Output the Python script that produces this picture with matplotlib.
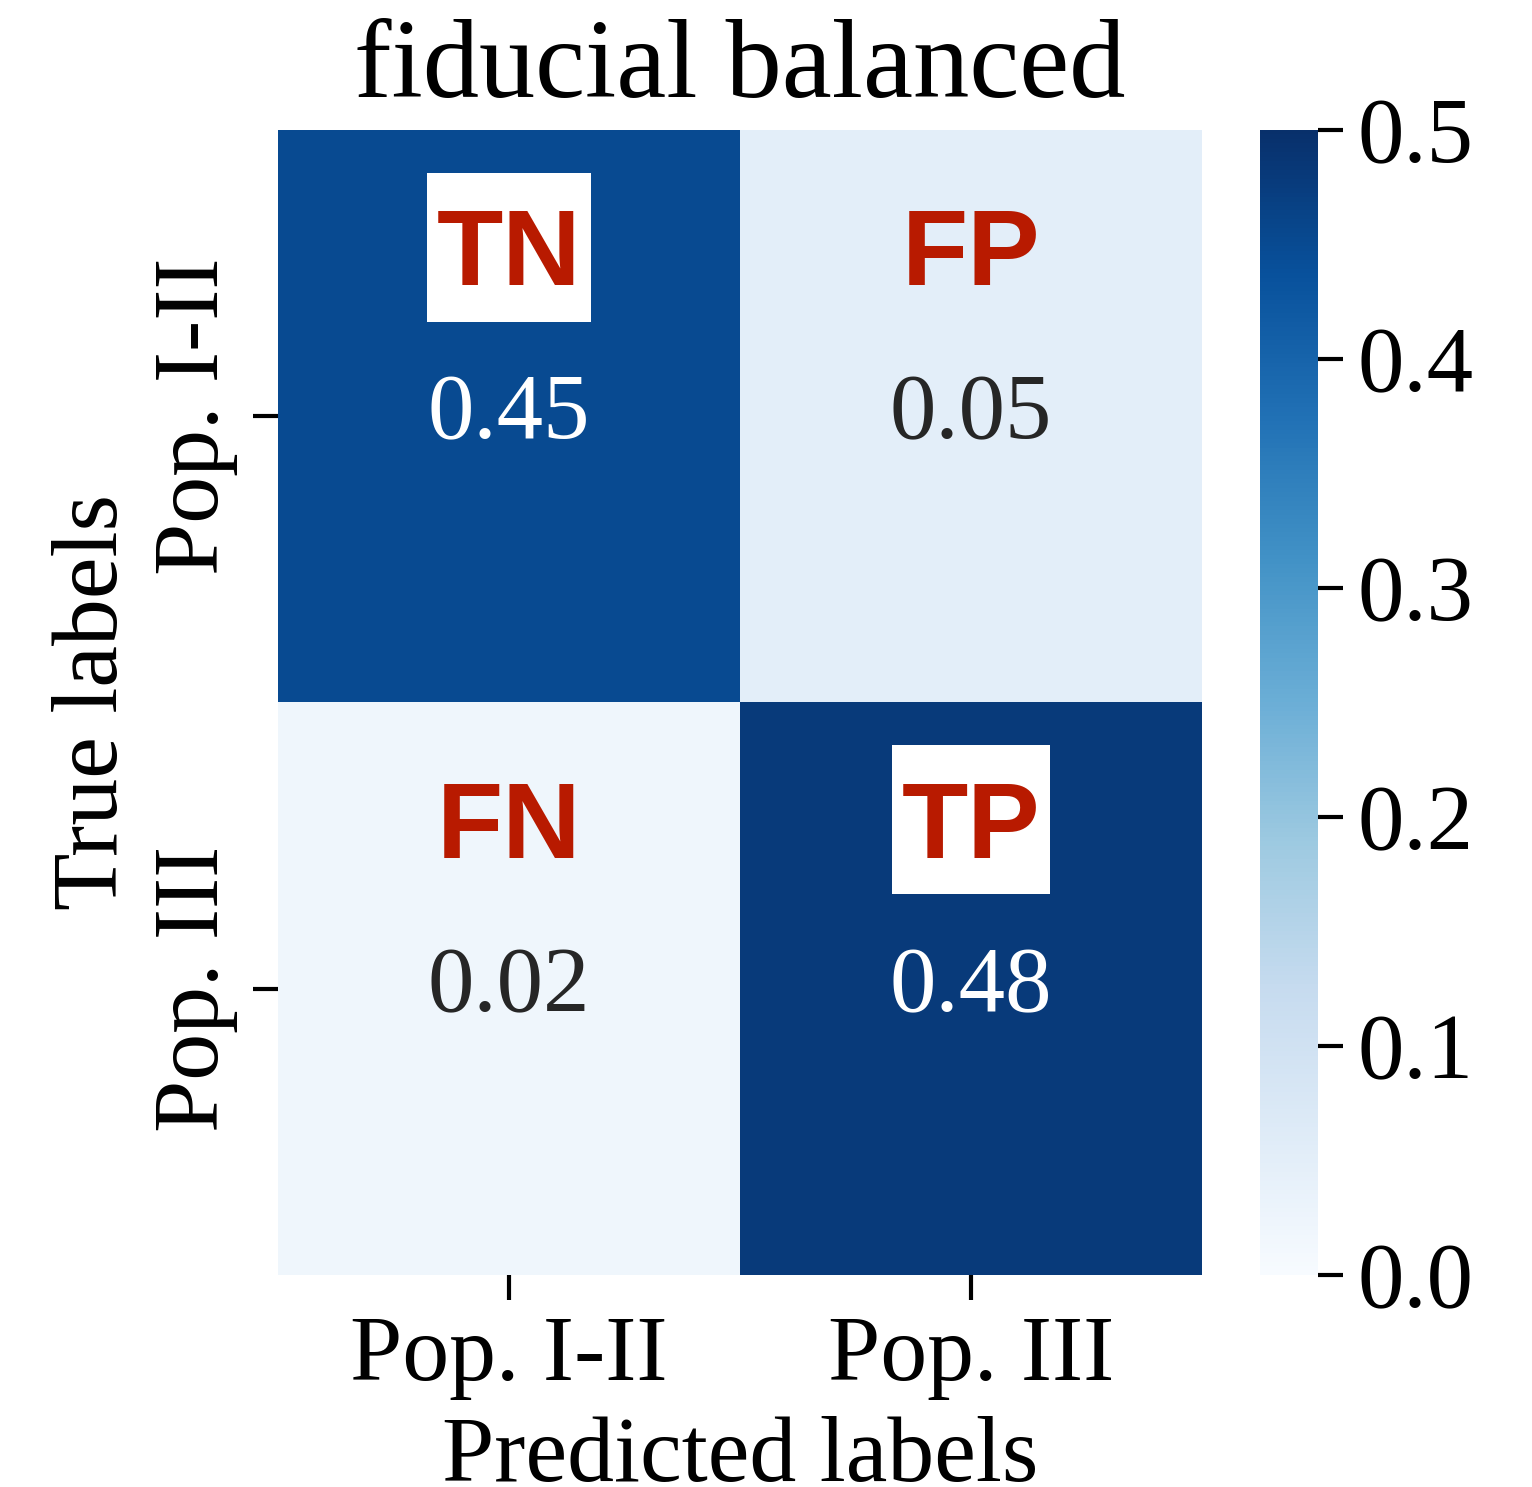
import matplotlib
matplotlib.use("Agg")
import matplotlib.pyplot as plt
from matplotlib.patches import Rectangle
import numpy as np
import seaborn as sns

# confusion matrix fractions (rows: true, cols: predicted)
class_labels = ["Pop. I-II", "Pop. III"]
cm_values = np.array([[0.45, 0.05],
                      [0.02, 0.48]])
cell_tags = [["TN", "FP"], ["FN", "TP"]]
tag_boxed = [[True, False], [False, True]]
title = "fiducial balanced"

plt.rcParams["font.family"] = ["Liberation Serif", "DejaVu Serif"]
plt.rcParams["mathtext.fontset"] = "stix"

fig = plt.figure(figsize=(1532 / 300, 1487 / 300), dpi=300)
ax = fig.add_axes([0.1815, 0.1426, 0.6031, 0.770])
cax = fig.add_axes([0.8225, 0.1426, 0.0379, 0.770])

sns.heatmap(cm_values, annot=True, fmt=".2f", cmap="Blues", vmin=0, vmax=0.5,
            ax=ax, cbar_ax=cax, annot_kws={"fontsize": 22.3},
            xticklabels=class_labels, yticklabels=class_labels)

ax.set_title(title, fontsize=27, pad=8)
ax.set_xlabel("Predicted labels", fontsize=22.5)
ax.set_ylabel("True labels", fontsize=22.5)
ax.tick_params(axis="both", labelsize=22.5, length=6, width=1)
ax.set_yticklabels(class_labels, rotation=90, va="center")
ax.set_xticklabels(class_labels, rotation=0)

cax.tick_params(labelsize=22.3, length=6, width=1)
cax.set_yticks([0.0, 0.1, 0.2, 0.3, 0.4, 0.5])

# TN/FP/FN/TP tags; white box behind the correct ones
tag_y = 0.222
box_y = 0.205
box_h = 0.26
renderer = fig.canvas.get_renderer()
inv = ax.transData.inverted()
for i in range(2):
    for j in range(2):
        t = ax.text(j + 0.5, i + tag_y, cell_tags[i][j], ha="center", va="center",
                    fontsize=26, fontweight="bold", color="#b81a00", zorder=4,
                    family=["Liberation Sans", "DejaVu Sans"])
        if tag_boxed[i][j]:
            ext = t.get_window_extent(renderer)
            (x0, _), (x1, _) = inv.transform([[ext.x0 - 10, 0], [ext.x1 + 10, 0]])
            ax.add_patch(Rectangle((x0, i + box_y - box_h / 2), x1 - x0, box_h,
                                   facecolor="white", edgecolor="none", zorder=3))

fig.savefig("out.png", dpi=300)
